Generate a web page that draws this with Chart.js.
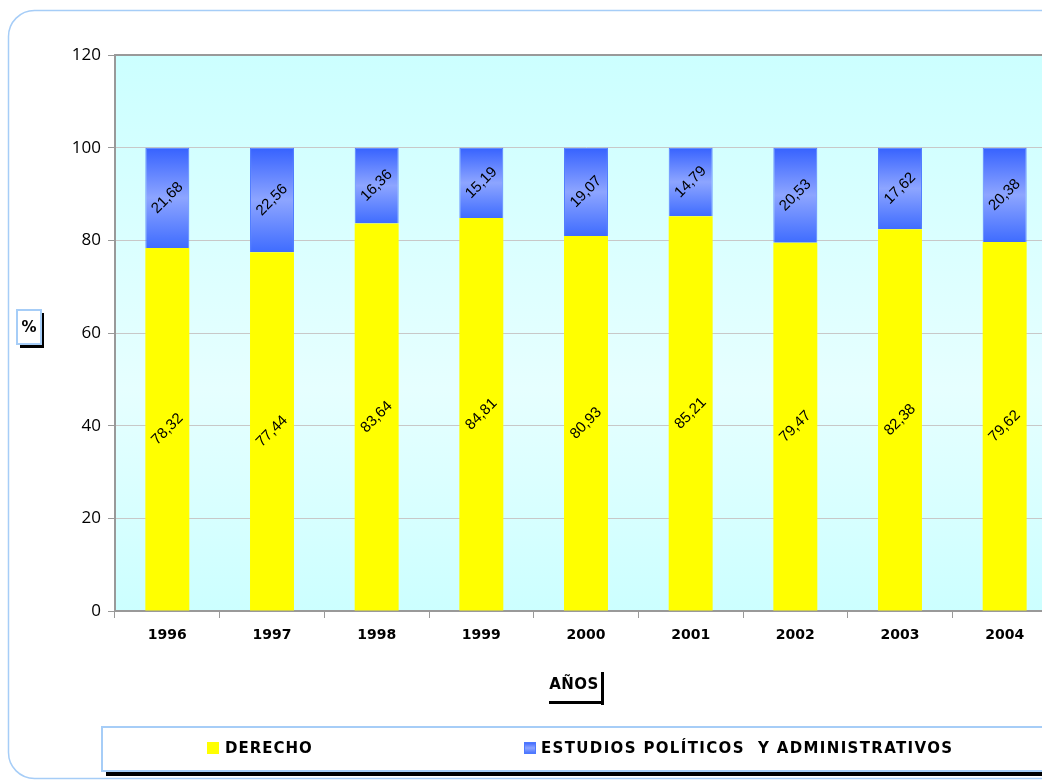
<!DOCTYPE html>
<html>
<head>
<meta charset="utf-8">
<script src="https://cdn.jsdelivr.net/npm/chart.js@4"></script>
<style>
  html, body { margin: 0; padding: 0; background: #fff; overflow: hidden; }
  #wrap { width: 1070px; height: 782px; }
</style>
</head>
<body>
<div id="wrap"><canvas id="myChart" width="1070" height="782"></canvas></div>
<script>
const years = ["1996", "1997", "1998", "1999", "2000", "2001", "2002", "2003", "2004"];
const derecho = [78.32, 77.44, 83.64, 84.81, 80.93, 85.21, 79.47, 82.38, 79.62];
const estudios = [21.68, 22.56, 16.36, 15.19, 19.07, 14.79, 20.53, 17.62, 20.38];
const seriesNames = ["DERECHO", "ESTUDIOS POLÍTICOS  Y ADMINISTRATIVOS"];
const yTicks = [0, 20, 40, 60, 80, 100, 120];

const frameBlue = "#a6cdf7";

function fmt(v) {
    return v.toFixed(2).replace(".", ",");
}

function blueGradient(ctx, top, bottom) {
    const g = ctx.createLinearGradient(0, top, 0, bottom);
    g.addColorStop(0, "#3662ff");
    g.addColorStop(0.5, "#8da5ff");
    g.addColorStop(1, "#3f6cff");
    return g;
}

// background, frame and the boxed titles
const decorPlugin = {
    id: "decor",
    beforeDraw(chart) {
        const ctx = chart.ctx;
        const a = chart.chartArea;
        ctx.save();
        ctx.fillStyle = "#fff";
        ctx.fillRect(0, 0, chart.width, chart.height);

        // outer rounded frame
        ctx.strokeStyle = frameBlue;
        ctx.lineWidth = 1.5;
        ctx.beginPath();
        ctx.roundRect(8.5, 10.5, 1100, 768, 26);
        ctx.stroke();

        // plot background
        const g = ctx.createLinearGradient(0, a.top, 0, a.bottom);
        g.addColorStop(0, "#ccffff");
        g.addColorStop(0.6, "#e6ffff");
        g.addColorStop(1, "#ccffff");
        ctx.fillStyle = g;
        ctx.fillRect(a.left, a.top, a.right - a.left, a.bottom - a.top);
        ctx.restore();
    },
    afterDraw(chart) {
        const ctx = chart.ctx;
        const a = chart.chartArea;
        ctx.save();

        // top border of plot
        ctx.strokeStyle = "#999";
        ctx.lineWidth = 2;
        ctx.beginPath();
        ctx.moveTo(a.left, a.top);
        ctx.lineTo(a.right + 20, a.top);
        ctx.stroke();

        // "%" title box
        ctx.fillStyle = "#000";
        ctx.fillRect(41, 313, 3, 35);
        ctx.fillRect(20, 345, 24, 3);
        ctx.fillStyle = "#fff";
        ctx.fillRect(17, 310, 23, 34);
        ctx.strokeStyle = frameBlue;
        ctx.lineWidth = 2;
        ctx.strokeRect(17, 310, 24, 34);
        ctx.fillStyle = "#000";
        ctx.font = "bold 15px 'DejaVu Sans'";
        ctx.textAlign = "center";
        ctx.textBaseline = "middle";
        ctx.fillText("%", 29, 328);

        // "AÑOS" title with shadow
        ctx.fillRect(601, 672, 3, 33);
        ctx.fillRect(549, 701, 55, 3);
        ctx.letterSpacing = "0.5px";
        ctx.fillText("AÑOS", 574, 685);

        // legend box
        ctx.fillRect(106, 771, 1000, 5);
        ctx.fillStyle = "#fff";
        ctx.fillRect(102, 727, 1000, 44);
        ctx.strokeStyle = frameBlue;
        ctx.lineWidth = 2;
        ctx.strokeRect(102, 727, 1000, 44);

        ctx.fillStyle = "#ffff00";
        ctx.fillRect(207, 742, 12, 12);
        ctx.fillStyle = blueGradient(ctx, 742, 754);
        ctx.fillRect(524, 742, 12, 12);
        ctx.strokeStyle = "#4d79ff";
        ctx.lineWidth = 1;
        ctx.strokeRect(524.5, 742.5, 11, 11);

        ctx.fillStyle = "#000";
        ctx.font = "bold 15px 'DejaVu Sans'";
        ctx.textAlign = "left";
        ctx.letterSpacing = "1px";
        ctx.fillText(chart.data.datasets[0].label, 225, 749);
        ctx.letterSpacing = "1.35px";
        ctx.fillText(chart.data.datasets[1].label, 541, 749);
        ctx.restore();
    },
    afterDatasetsDraw(chart) {
        const ctx = chart.ctx;
        ctx.save();
        ctx.fillStyle = "#000";
        ctx.font = "15px 'Liberation Sans'";
        ctx.textAlign = "center";
        ctx.textBaseline = "middle";
        chart.data.datasets.forEach((ds, i) => {
            chart.getDatasetMeta(i).data.forEach((bar, j) => {
                const cy = (bar.y + bar.base) / 2;
                ctx.save();
                ctx.translate(bar.x, cy);
                ctx.rotate(-Math.PI / 4);
                ctx.fillText(fmt(ds.data[j]), 0, 0);
                ctx.restore();
            });
        });
        ctx.restore();
    }
};

const ctx = document.getElementById("myChart");

new Chart(ctx, {
    type: "bar",
    data: {
        labels: years,
        datasets: [
            {
                label: seriesNames[0],
                data: derecho,
                backgroundColor: "#ffff00",
                borderWidth: 0,
            },
            {
                label: seriesNames[1],
                data: estudios,
                backgroundColor: function (c) {
                    const y = c.chart.scales.y;
                    if (!y || c.dataIndex === undefined) return "#3662ff";
                    const top = y.getPixelForValue(100);
                    const bottom = y.getPixelForValue(derecho[c.dataIndex]);
                    if (!isFinite(top) || !isFinite(bottom)) return "#3662ff";
                    return blueGradient(c.chart.ctx, top, bottom);
                },
                borderColor: "#4f7bff",
                borderWidth: 1,
            },
        ],
    },
    options: {
        responsive: false,
        animation: false,
        layout: {
            padding: { top: 55, right: 13, left: 0, bottom: 0 },
        },
        datasets: {
            bar: { categoryPercentage: 1, barPercentage: 0.42 },
        },
        plugins: {
            legend: { display: false },
            tooltip: { enabled: false },
        },
        scales: {
            x: {
                stacked: true,
                afterFit: function (s) { s.height = 171; },
                grid: {
                    drawOnChartArea: false,
                    drawTicks: true,
                    tickLength: 7,
                    color: "#999",
                    offset: true,
                },
                border: { color: "#999", width: 2 },
                ticks: {
                    color: "#000",
                    padding: 9,
                    font: { family: "DejaVu Sans", size: 14, weight: "bold" },
                },
            },
            y: {
                stacked: true,
                min: 0,
                max: 120,
                afterFit: function (s) { s.width = 115; },
                afterBuildTicks: function (s) {
                    s.ticks = yTicks.map(v => ({ value: v }));
                },
                grid: {
                    color: c => (c.tick && c.tick.value === 120 ? "#999" : "#c8c8c8"),
                    tickColor: "#999",
                    tickLength: 7,
                },
                border: { color: "#999", width: 2 },
                ticks: {
                    color: "#000",
                    padding: 7,
                    font: { family: "Open Sans", size: 17 },
                },
            },
        },
    },
    plugins: [decorPlugin],
});
</script>
</body>
</html>
